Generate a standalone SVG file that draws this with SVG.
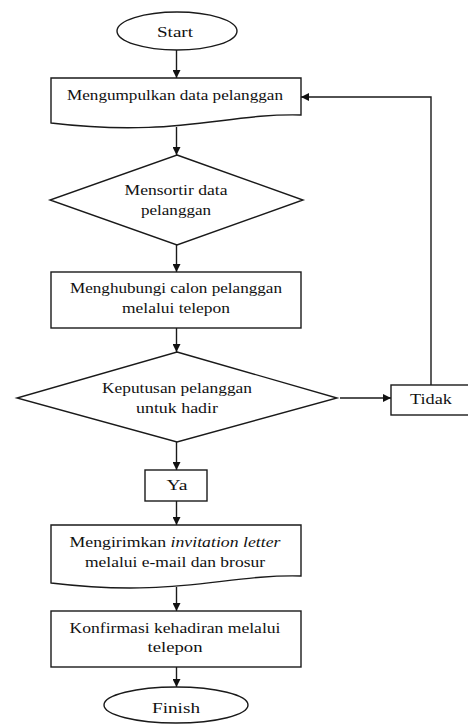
<svg xmlns="http://www.w3.org/2000/svg" width="468" height="726" viewBox="0 0 468 726">
<defs>
<marker id="ah" viewBox="0 0 10 10" refX="10" refY="5" markerWidth="8" markerHeight="8" markerUnits="userSpaceOnUse" orient="auto">
<path d="M0,0 L10,5 L0,10 Z" fill="#111"/>
</marker>
<style>
.s{fill:#fff;stroke:#1a1a1a;stroke-width:1.4}
.c{fill:none;stroke:#1a1a1a;stroke-width:1.4}
.t{font-family:"Liberation Serif","Times New Roman",serif;font-size:14px;fill:#111;text-anchor:middle}
</style>
</defs>
<rect width="468" height="726" fill="#fff"/>
<g id="connectors">
<line class="c" x1="176.5" y1="50" x2="176.5" y2="78" marker-end="url(#ah)"/>
<line class="c" x1="176.5" y1="127" x2="176.5" y2="155" marker-end="url(#ah)"/>
<line class="c" x1="176.5" y1="245" x2="176.5" y2="272" marker-end="url(#ah)"/>
<line class="c" x1="176.5" y1="328" x2="176.5" y2="352" marker-end="url(#ah)"/>
<line class="c" x1="340" y1="398" x2="391" y2="398" marker-end="url(#ah)"/>
<polyline class="c" points="431,385 431,97 301,97" marker-end="url(#ah)"/>
<line class="c" x1="176.5" y1="442" x2="176.5" y2="470" marker-end="url(#ah)"/>
<line class="c" x1="176.5" y1="501" x2="176.5" y2="525" marker-end="url(#ah)"/>
<line class="c" x1="176.5" y1="587" x2="176.5" y2="611" marker-end="url(#ah)"/>
<line class="c" x1="176.5" y1="667" x2="176.5" y2="687" marker-end="url(#ah)"/>
</g>
<g id="start">
<ellipse class="s" cx="177" cy="31" rx="60" ry="19"/>
<text class="t" x="175" y="37" textLength="36" lengthAdjust="spacingAndGlyphs">Start</text>
</g>
<g id="mengumpulkan">
<path class="s" d="M51,78 H301 V115 C226,113 176,138 51,123 Z"/>
<text class="t" x="175" y="100" textLength="216" lengthAdjust="spacingAndGlyphs">Mengumpulkan data pelanggan</text>
</g>
<g id="mensortir">
<path class="s" d="M177,155 L303,200 L177,245 L50,200 Z"/>
<text class="t" x="176" y="195" textLength="103" lengthAdjust="spacingAndGlyphs">Mensortir data</text>
<text class="t" x="176" y="215" textLength="70" lengthAdjust="spacingAndGlyphs">pelanggan</text>
</g>
<g id="menghubungi">
<rect class="s" x="51" y="272" width="250" height="56"/>
<text class="t" x="176" y="293" textLength="212" lengthAdjust="spacingAndGlyphs">Menghubungi calon pelanggan</text>
<text class="t" x="176" y="313" textLength="108" lengthAdjust="spacingAndGlyphs">melalui telepon</text>
</g>
<g id="keputusan">
<path class="s" d="M177,352 L337,398 L177,442 L17,398 Z"/>
<text class="t" x="177" y="393" textLength="150" lengthAdjust="spacingAndGlyphs">Keputusan pelanggan</text>
<text class="t" x="177" y="413" textLength="82" lengthAdjust="spacingAndGlyphs">untuk hadir</text>
</g>
<g id="tidak">
<rect class="s" x="391" y="385" width="82" height="30"/>
<text class="t" x="431" y="404" textLength="42" lengthAdjust="spacingAndGlyphs">Tidak</text>
</g>
<g id="ya">
<rect class="s" x="145" y="470" width="62" height="31"/>
<text class="t" x="177" y="490" textLength="21" lengthAdjust="spacingAndGlyphs">Ya</text>
</g>
<g id="mengirimkan">
<path class="s" d="M51,525 H301 V576 C226,574 176,598 51,583 Z"/>
<text class="t" x="175" y="547" textLength="211" lengthAdjust="spacingAndGlyphs">Mengirimkan <tspan font-style="italic">invitation letter</tspan></text>
<text class="t" x="175" y="567" textLength="180" lengthAdjust="spacingAndGlyphs">melalui e-mail dan brosur</text>
</g>
<g id="konfirmasi">
<rect class="s" x="51" y="611" width="250" height="56"/>
<text class="t" x="175" y="633" textLength="211" lengthAdjust="spacingAndGlyphs">Konfirmasi kehadiran melalui</text>
<text class="t" x="175" y="652" textLength="55" lengthAdjust="spacingAndGlyphs">telepon</text>
</g>
<g id="finish">
<ellipse class="s" cx="176" cy="705" rx="72" ry="18"/>
<text class="t" x="176" y="713" textLength="48" lengthAdjust="spacingAndGlyphs">Finish</text>
</g>
</svg>
